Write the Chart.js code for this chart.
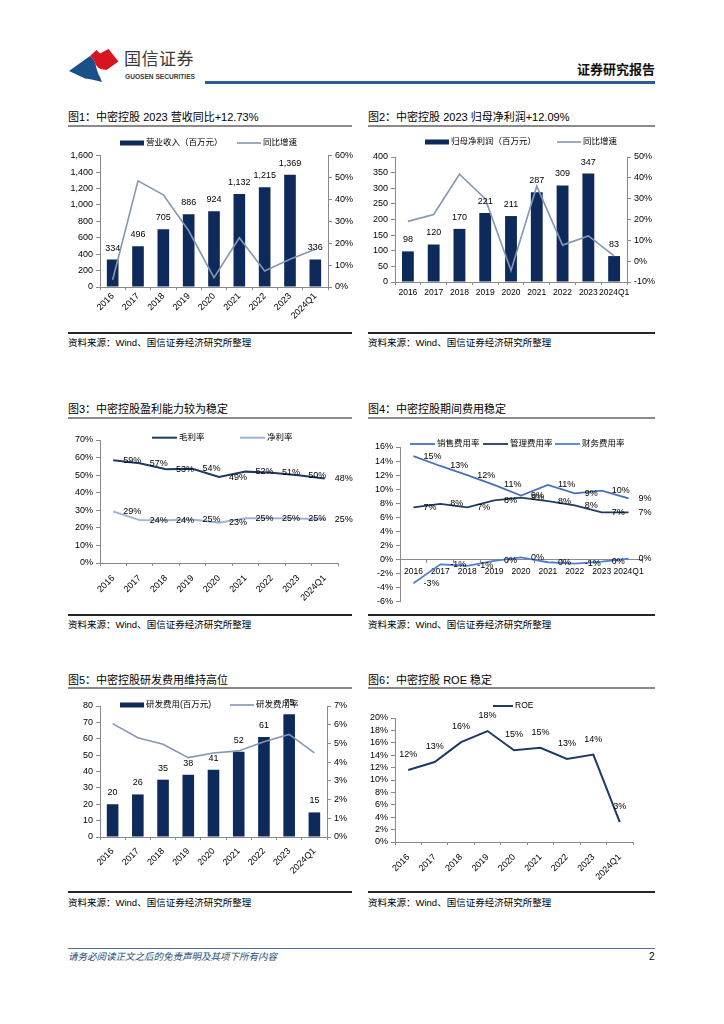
<!DOCTYPE html>
<html><head><meta charset="utf-8">
<script src="https://cdn.jsdelivr.net/npm/chart.js@4.4.1/dist/chart.umd.min.js"></script>
<style>
body{margin:0;width:724px;height:1024px;background:#fff;position:relative;overflow:hidden;font-family:"Liberation Sans","Noto Sans CJK SC",sans-serif;}
.abs{position:absolute;white-space:nowrap;}
.title{font-size:11px;line-height:14px;color:#000;}
.uline{height:2px;background:#8a8a8a;}
.sline{height:2px;background:#262626;}
.src{font-size:9.5px;line-height:12px;color:#000;}
canvas{position:absolute;}
</style></head><body>
<!-- header -->
<svg class="abs" style="left:65px;top:45px" width="60" height="45" viewBox="0 0 60 45">
  <path d="M4,26 L25,11 C28,14 30,16 30.5,19 C31.5,24 33,29 35,32 L37,37 C30,35 25,34 20,33.5 Z" fill="#1b4f8a"/>
  <path d="M25,11 L31.5,5 L35,8.5 L43.5,4 L53.5,16.5 L41.5,25 C38,24.5 35,24 33,22.5 C31.5,21 30.5,19 30.5,19 C30,16 28,14 25,11 Z" fill="#d7141f"/>
</svg>
<div class="abs" style="left:124px;top:50px;font-size:17px;line-height:20px;color:#3a3a3a;letter-spacing:0.5px">国信证券</div>
<div class="abs" style="left:125px;top:73px;font-size:6.6px;line-height:8px;color:#3a3a3a;font-weight:bold">GUOSEN SECURITIES</div>
<div class="abs" style="right:69px;top:62px;font-size:13px;line-height:16px;font-weight:bold;color:#111">证券研究报告</div>
<div class="abs" style="left:205px;top:81px;width:450px;height:2.5px;background:#2c5d8f"></div>

<!-- titles -->
<div class="abs title" style="left:68px;top:110px">图1：中密控股 2023 营收同比+12.73%</div>
<div class="abs uline" style="left:68px;top:125px;width:284px"></div>
<div class="abs title" style="left:368px;top:110px">图2：中密控股 2023 归母净利润+12.09%</div>
<div class="abs uline" style="left:368px;top:125px;width:287px"></div>
<div class="abs sline" style="left:68px;top:332px;width:284px"></div>
<div class="abs src" style="left:68px;top:337px">资料来源：Wind、国信证券经济研究所整理</div>
<div class="abs sline" style="left:368px;top:332px;width:287px"></div>
<div class="abs src" style="left:368px;top:337px">资料来源：Wind、国信证券经济研究所整理</div>

<div class="abs title" style="left:68px;top:402px">图3：中密控股盈利能力较为稳定</div>
<div class="abs uline" style="left:68px;top:417px;width:284px"></div>
<div class="abs title" style="left:368px;top:402px">图4：中密控股期间费用稳定</div>
<div class="abs uline" style="left:368px;top:417px;width:287px"></div>
<div class="abs sline" style="left:68px;top:614px;width:284px"></div>
<div class="abs src" style="left:68px;top:619px">资料来源：Wind、国信证券经济研究所整理</div>
<div class="abs sline" style="left:368px;top:614px;width:287px"></div>
<div class="abs src" style="left:368px;top:619px">资料来源：Wind、国信证券经济研究所整理</div>

<div class="abs title" style="left:68px;top:673px">图5：中密控股研发费用维持高位</div>
<div class="abs uline" style="left:68px;top:687px;width:284px"></div>
<div class="abs title" style="left:368px;top:673px">图6：中密控股 ROE 稳定</div>
<div class="abs uline" style="left:368px;top:687px;width:287px"></div>
<div class="abs sline" style="left:68px;top:891px;width:284px"></div>
<div class="abs src" style="left:68px;top:897px">资料来源：Wind、国信证券经济研究所整理</div>
<div class="abs sline" style="left:368px;top:891px;width:287px"></div>
<div class="abs src" style="left:368px;top:897px">资料来源：Wind、国信证券经济研究所整理</div>

<!-- footer -->
<div class="abs" style="left:68px;top:948px;width:587px;height:1px;background:#4f6f96"></div>
<div class="abs" style="left:68px;top:951px;font-size:9.5px;line-height:12px;font-style:italic;color:#1f4e79">请务必阅读正文之后的免责声明及其项下所有内容</div>
<div class="abs" style="left:649px;top:951px;font-size:10px;line-height:12px;color:#000">2</div>

<canvas id="c1" width="300" height="202" style="left:60px;top:128px"></canvas>
<canvas id="c2" width="300" height="202" style="left:360px;top:128px"></canvas>
<canvas id="c3" width="300" height="190" style="left:60px;top:420px"></canvas>
<canvas id="c4" width="300" height="190" style="left:360px;top:420px"></canvas>
<canvas id="c5" width="300" height="200" style="left:60px;top:690px"></canvas>
<canvas id="c6" width="300" height="200" style="left:360px;top:690px"></canvas>

<script>
// ---------- data ----------
const years = ['2016','2017','2018','2019','2020','2021','2022','2023','2024Q1'];
const revenue = [334, 496, 705, 886, 924, 1132, 1215, 1369, 336];
const revenueGrowth = [3.3, 48.5, 42.1, 25.7, 4.3, 22.5, 7.3, 12.7, 17.2];
const netProfit = [98, 120, 170, 221, 211, 287, 309, 347, 83];
const netProfitGrowth = [19.1, 22.4, 41.7, 30.0, -4.5, 36.0, 7.7, 12.1, 2.5];
const grossMargin = [58.5, 56.8, 53.4, 53.6, 48.9, 52.0, 51.4, 50.0, 48.1];
const netMargin = [29.3, 24.4, 24.3, 24.8, 22.9, 25.4, 25.4, 25.3, 24.7];
const salesRate = [14.7, 13.3, 12.0, 10.6, 9.1, 10.6, 9.4, 9.8, 8.7];
const adminRate = [7.4, 7.9, 7.4, 8.4, 8.8, 8.3, 7.7, 6.7, 6.7];
const financeRate = [-3.4, -0.7, -0.9, -0.2, 0.3, -0.4, -0.6, -0.3, 0.1];
const rdExpense = [20, 26, 35, 38, 41, 52, 61, 75, 15];
const rdRate = [6.06, 5.3, 4.96, 4.24, 4.49, 4.6, 5.09, 5.48, 4.49];
const roe = [11.6, 12.9, 16.1, 17.9, 14.8, 15.2, 13.4, 14.1, 3.2];

// ---------- styling helpers ----------
const FAM = '"Liberation Sans","Noto Sans CJK SC",sans-serif';
const GRAY = '#8a8a8a';
const NAVY = '#0e2a5a';
Chart.defaults.font.family = FAM;
Chart.defaults.color = '#000';

const pct = v => v + '%';
const comma = v => Number(v).toLocaleString('en-US');

function yAxis(pos, min, max, step, fmt, width) {
  return {
    position: pos, min: min, max: max,
    ticks: {stepSize: step, callback: fmt, font: {size: 9, family: FAM}, color: '#000', padding: 3, autoSkip: false},
    grid: {display: true, drawOnChartArea: false, drawTicks: true, tickLength: 4, color: GRAY},
    border: {display: true, color: GRAY, width: 1},
    afterFit: s => { s.width = width; }
  };
}
function xAxis(rot, height, pad, size, extra) {
  return Object.assign({
    type: 'category', offset: true,
    ticks: {font: {size: size, family: FAM}, color: '#000', maxRotation: rot, minRotation: rot, autoSkip: false, padding: pad},
    grid: {display: true, drawOnChartArea: false, drawTicks: true, tickLength: 3, color: GRAY, offset: true},
    border: {display: true, color: GRAY, width: 1},
    afterFit: s => { if (height !== null) s.height = height; }
  }, extra || {});
}

// data labels drawn from the library's element positions
const labelPlugin = {
  id: 'vlabels',
  afterDatasetsDraw(chart) {
    const ctx = chart.ctx;
    chart.data.datasets.forEach((ds, di) => {
      if (!ds.lbl) return;
      const meta = chart.getDatasetMeta(di);
      ctx.save();
      ctx.font = '9px ' + FAM;
      ctx.fillStyle = '#000';
      meta.data.forEach((el, i) => {
        const t = ds.lbl.fmt(ds.data[i]);
        const x = el.x, y = el.y;
        if (ds.lbl.mode === 'top') {
          ctx.textAlign = 'center'; ctx.textBaseline = 'middle';
          ctx.fillText(t, x, y - 11.5);
        } else if (ds.lbl.mode === 'right') {
          ctx.textAlign = 'left'; ctx.textBaseline = 'middle';
          ctx.fillText(t, x + ds.lbl.dx, y);
        } else {
          ctx.textAlign = 'center'; ctx.textBaseline = 'middle';
          ctx.fillText(t, x, y - 15.5);
        }
      });
      ctx.restore();
    });
  }
};

function legendPlugin(cfg) {
  return {
    id: 'xlegend',
    afterDraw(chart) {
      const ctx = chart.ctx;
      ctx.save();
      ctx.font = '8.5px ' + FAM;
      ctx.textBaseline = 'middle';
      chart.data.datasets.forEach((ds, i) => {
        const x = cfg.xs[i], y = cfg.y;
        if (ds.type === 'bar') {
          ctx.fillStyle = ds.backgroundColor;
          ctx.fillRect(x, y - 2.5, cfg.sample, 5);
        } else {
          ctx.strokeStyle = ds.borderColor;
          ctx.lineWidth = ds.borderWidth;
          ctx.beginPath(); ctx.moveTo(x, y); ctx.lineTo(x + cfg.sample, y); ctx.stroke();
        }
        ctx.fillStyle = '#000';
        ctx.textAlign = 'left';
        ctx.fillText(ds.label, x + cfg.sample + 2, y);
      });
      ctx.restore();
    }
  };
}

const baseOpts = (pad) => ({
  responsive: false, animation: false, events: [],
  layout: {padding: pad},
  plugins: {legend: {display: false}, tooltip: {enabled: false}}
});

// ---------- chart 1 ----------
new Chart(document.getElementById('c1'), {
  data: {
    labels: years,
    datasets: [
      {type: 'bar', label: '营业收入（百万元）', data: revenue, backgroundColor: NAVY, yAxisID: 'y', order: 1,
       barPercentage: 0.46, categoryPercentage: 1, lbl: {mode: 'top', fmt: comma}},
      {type: 'line', label: '同比增速', data: revenueGrowth, borderColor: '#8497b3', borderWidth: 1.6, pointRadius: 0,
       yAxisID: 'y1', order: 0, tension: 0}
    ]
  },
  options: Object.assign(baseOpts({top: 27.7, left: 0, right: 0, bottom: 0}), {
    scales: {
      x: xAxis(45, 43, 1, 9),
      y: yAxis('left', 0, 1600, 200, comma, 40),
      y1: yAxis('right', 0, 60, 10, pct, 32)
    }
  }),
  plugins: [labelPlugin, legendPlugin({y: 15, xs: [60, 177], sample: 24})]
});

// ---------- chart 2 ----------
new Chart(document.getElementById('c2'), {
  data: {
    labels: years,
    datasets: [
      {type: 'bar', label: '归母净利润（百万元）', data: netProfit, backgroundColor: NAVY, yAxisID: 'y', order: 1,
       barPercentage: 0.46, categoryPercentage: 1, lbl: {mode: 'top', fmt: v => String(v)}},
      {type: 'line', label: '同比增速', data: netProfitGrowth, borderColor: '#8497b3', borderWidth: 1.6, pointRadius: 0,
       yAxisID: 'y1', order: 0, tension: 0}
    ]
  },
  options: Object.assign(baseOpts({top: 29, left: 0, right: 0, bottom: 0}), {
    scales: {
      x: xAxis(0, 48, 3, 8.5),
      y: yAxis('left', 0, 400, 50, v => String(v), 35),
      y1: yAxis('right', -10, 50, 10, pct, 33)
    }
  }),
  plugins: [labelPlugin, legendPlugin({y: 14, xs: [65, 197], sample: 24})]
});

// ---------- chart 3 ----------
new Chart(document.getElementById('c3'), {
  type: 'line',
  data: {
    labels: years,
    datasets: [
      {type: 'line', label: '毛利率', data: grossMargin, borderColor: '#1d3a66', borderWidth: 2, pointRadius: 0, tension: 0,
       lbl: {mode: 'right', dx: 10, fmt: v => Math.round(v) + '%'}},
      {type: 'line', label: '净利率', data: netMargin, borderColor: '#9fb5d8', borderWidth: 2, pointRadius: 0, tension: 0,
       lbl: {mode: 'right', dx: 10, fmt: v => Math.round(v) + '%'}}
    ]
  },
  options: Object.assign(baseOpts({top: 20, left: 0, right: 22, bottom: 0}), {
    scales: {
      x: xAxis(45, 47, 7, 9),
      y: yAxis('left', 0, 70, 10, pct, 40)
    }
  }),
  plugins: [labelPlugin, legendPlugin({y: 17.7, xs: [92, 180], sample: 25})]
});

// ---------- chart 4 ----------
new Chart(document.getElementById('c4'), {
  type: 'line',
  data: {
    labels: years,
    datasets: [
      {type: 'line', label: '销售费用率', data: salesRate, borderColor: '#4670b8', borderWidth: 1.8, pointRadius: 0, tension: 0,
       lbl: {mode: 'right', dx: 10, fmt: v => Math.round(v) + '%'}},
      {type: 'line', label: '管理费用率', data: adminRate, borderColor: '#1f3b5e', borderWidth: 1.8, pointRadius: 0, tension: 0,
       lbl: {mode: 'right', dx: 10, fmt: v => Math.round(v) + '%'}},
      {type: 'line', label: '财务费用率', data: financeRate, borderColor: '#4f80d4', borderWidth: 1.8, pointRadius: 0, tension: 0,
       lbl: {mode: 'right', dx: 10, fmt: v => Math.round(v) + '%'}}
    ]
  },
  options: Object.assign(baseOpts({top: 27, left: 0, right: 18, bottom: 6}), {
    scales: {
      x: xAxis(0, null, 4, 8.5, {position: {y: 0}}),
      y: yAxis('left', -6, 16, 2, pct, 40)
    }
  }),
  plugins: [labelPlugin, legendPlugin({y: 24, xs: [50, 123, 195], sample: 25})]
});

// ---------- chart 5 ----------
new Chart(document.getElementById('c5'), {
  data: {
    labels: years,
    datasets: [
      {type: 'bar', label: '研发费用(百万元)', data: rdExpense, backgroundColor: NAVY, yAxisID: 'y', order: 1,
       barPercentage: 0.46, categoryPercentage: 1, lbl: {mode: 'top', fmt: v => String(v)}},
      {type: 'line', label: '研发费用率', data: rdRate, borderColor: '#8497b3', borderWidth: 1.6, pointRadius: 0,
       yAxisID: 'y1', order: 0, tension: 0}
    ]
  },
  options: Object.assign(baseOpts({top: 16, left: 0, right: 0, bottom: 0}), {
    scales: {
      x: xAxis(45, 53, 6, 9),
      y: yAxis('left', 0, 80, 10, v => String(v), 40),
      y1: yAxis('right', 0, 7, 1, pct, 33)
    }
  }),
  plugins: [labelPlugin, legendPlugin({y: 15, xs: [60, 170], sample: 24})]
});

// ---------- chart 6 ----------
new Chart(document.getElementById('c6'), {
  type: 'line',
  data: {
    labels: years,
    datasets: [
      {type: 'line', label: 'ROE', data: roe, borderColor: '#1d3a66', borderWidth: 2, pointRadius: 0, tension: 0,
       lbl: {mode: 'above', fmt: v => Math.round(v) + '%'}}
    ]
  },
  options: Object.assign(baseOpts({top: 28, left: 0, right: 27, bottom: 0}), {
    scales: {
      x: xAxis(45, 48, 7, 9),
      y: yAxis('left', 0, 20, 2, pct, 35)
    }
  }),
  plugins: [labelPlugin, legendPlugin({y: 16, xs: [133], sample: 20})]
});
</script>
</body></html>
